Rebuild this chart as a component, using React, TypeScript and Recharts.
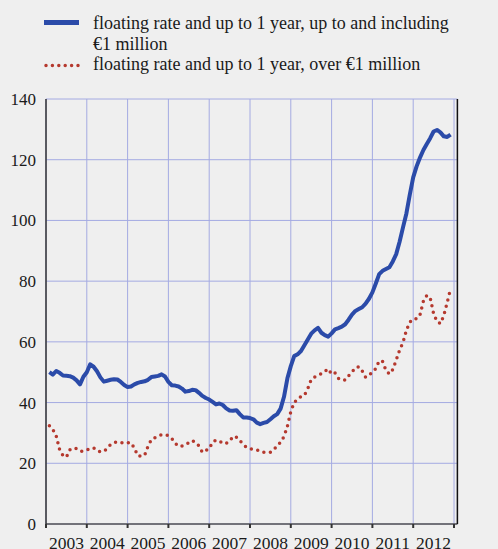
import { LineChart, Line, XAxis, YAxis, CartesianGrid } from 'recharts'

// monthly index values, first point = month 1 (Jan 2003)
const upToOneMillion = [
  50.0, 49.2, 50.4, 49.8, 48.9, 48.8, 48.7, 48.2, 47.3, 46.0, 48.5, 50.0,
  52.6, 51.8, 50.3, 48.3, 46.9, 47.2, 47.5, 47.7, 47.6, 46.8, 45.8, 45.1,
  45.3, 46.0, 46.5, 46.8, 47.0, 47.5, 48.4, 48.6, 48.8, 49.3, 48.6, 46.8,
  45.7, 45.6, 45.3, 44.6, 43.6, 43.8, 44.2, 44.1, 43.2, 42.2, 41.5, 41.0,
  40.2, 39.4, 39.7, 39.2, 38.1, 37.4, 37.3, 37.5, 36.2, 35.1, 35.1, 34.9,
  34.5, 33.4, 32.9, 33.3, 33.6, 34.5, 35.5, 36.2, 38.0, 41.9, 48.0, 52.0,
  55.3, 55.9, 57.0, 58.9, 60.8, 62.7, 63.8, 64.6, 63.0, 62.2, 61.7, 62.8,
  64.1, 64.5, 65.0, 65.8, 67.3, 69.0, 70.2, 70.8, 71.4, 72.6, 74.2, 76.3,
  79.2, 82.3, 83.4, 84.0, 84.6, 86.5, 88.9, 93.0, 97.7, 102.3, 108.5, 114.2,
  117.8, 120.7, 123.2, 125.2, 127.1, 129.3, 129.8, 129.0, 127.7, 127.5, 128.3,
]

const overOneMillion = [
  32.4, 31.2, 29.0, 24.5, 22.5, 22.0, 24.4, 25.0, 24.8, 24.0, 24.0, 24.4,
  24.8, 25.1, 24.3, 23.7, 24.0, 24.8, 26.2, 26.8, 27.0, 26.8, 26.6, 26.8,
  26.8, 25.0, 22.5, 22.4, 22.6, 25.6, 27.8, 28.4, 29.0, 29.4, 29.4, 29.1,
  28.2, 26.6, 25.6, 25.7, 26.1, 26.8, 27.5, 26.8, 25.7, 23.6, 24.2, 24.8,
  27.0, 27.6, 27.4, 26.5, 26.6, 27.2, 28.9, 28.6, 27.5, 26.2, 25.2, 24.8,
  24.6, 24.4, 24.0, 23.6, 23.6, 23.6, 24.6, 25.6, 27.0, 28.8, 32.2, 37.0,
  40.0, 41.2, 42.0, 42.4, 44.6, 47.6, 48.4, 49.0, 49.5, 50.3, 51.1, 49.3,
  49.8, 48.0, 47.4, 47.4, 48.8, 50.0, 51.5, 51.8, 50.4, 48.3, 49.0, 50.0,
  51.2, 53.8, 53.5, 50.6, 49.4, 50.9, 54.0, 57.3, 59.8, 63.8, 66.5, 67.6,
  67.6, 68.9, 73.4, 75.3, 74.5, 69.3, 66.7, 66.0, 68.7, 73.0, 77.5,
]

const years = ['2003', '2004', '2005', '2006', '2007', '2008', '2009', '2010', '2011', '2012']
const yearTicks = [0, 12, 24, 36, 48, 60, 72, 84, 96, 108, 120]
const valueTicks = [0, 20, 40, 60, 80, 100, 120, 140]

const legendLabels = [
  'floating rate and up to 1 year, up to and including',
  '€1 million',
  'floating rate and up to 1 year, over €1 million',
]

const BLUE = '#2b4ba9'
const RED = '#b5392e'
const GRID = '#a4aae2'
const AXIS = '#333'
const INK = '#1a1a1a'
// no serif face is available offline, so this falls back to the default sans
const FONT = "'Liberation Serif', 'DejaVu Serif', serif"

const data = upToOneMillion.map((v, i) => ({
  month: i + 1,
  small: v,
  large: overOneMillion[i],
}))

function YearTick(props: any) {
  const { x, y, payload } = props
  const idx = yearTicks.indexOf(payload.value)
  if (idx < 0 || idx >= years.length) return null
  return (
    <text x={x + 20.4} y={y} dy={19} textAnchor="middle" style={{ fontFamily: FONT, fontSize: 17.5 }} fill={INK}>
      {years[idx]}
    </text>
  )
}

function LegendBox() {
  const ts = { fontFamily: FONT, fontSize: 18 }
  return (
    <svg width={498} height={80} style={{ position: 'absolute', left: 0, top: 0 }}>
      {/* solid sample */}
      <line x1={44} x2={79} y1={22.5} y2={22.5} stroke={BLUE} strokeWidth={5} />
      <text x={93} y={29} style={ts} fill={INK}>{legendLabels[0]}</text>
      <text x={93} y={50} style={ts} fill={INK}>{legendLabels[1]}</text>
      {/* dotted sample */}
      <line x1={46} x2={79} y1={65.5} y2={65.5} stroke={RED} strokeWidth={3.5}
        strokeDasharray="0 6.4" strokeLinecap="round" />
      <text x={93} y={70} style={ts} fill={INK}>{legendLabels[2]}</text>
    </svg>
  )
}

export default function App() {
  return (
    <div style={{ position: 'absolute', left: 0, top: 0, width: 498, height: 549, background: '#efefef', overflow: 'hidden', fontFamily: FONT }}>
      <LegendBox />
      <LineChart width={498} height={549} data={data} margin={{ top: 99, right: 0, bottom: 0, left: 0 }}>
        <CartesianGrid yAxisId="left" stroke={GRID} strokeWidth={1} />
        <XAxis
          dataKey="month"
          type="number"
          domain={[0, 121]}
          ticks={yearTicks}
          height={25}
          tick={<YearTick />}
          tickSize={4}
          tickLine={{ stroke: AXIS, strokeWidth: 2 }}
          axisLine={{ stroke: '#555', strokeWidth: 1.5 }}
          interval={0}
        />
        <YAxis
          yAxisId="left"
          domain={[0, 140]}
          ticks={valueTicks}
          width={46}
          tickLine={false}
          tickSize={8}
          tickMargin={2}
          axisLine={{ stroke: AXIS, strokeWidth: 1.5 }}
          tick={{ fontSize: 17, fill: INK, style: { fontFamily: FONT } }}
        />
        <YAxis
          yAxisId="right"
          orientation="right"
          domain={[0, 140]}
          ticks={valueTicks}
          width={40.6}
          tickLine={false}
          tickSize={7}
          tickMargin={2}
          axisLine={{ stroke: '#111', strokeWidth: 1.5 }}
          tick={{ fontSize: 17, fill: INK, textAnchor: 'start', style: { fontFamily: FONT } }}
        />
        <Line
          yAxisId="left"
          dataKey="large"
          type="linear"
          stroke={RED}
          strokeWidth={3.5}
          strokeDasharray="0 6.5"
          strokeLinecap="round"
          dot={false}
          isAnimationActive={false}
        />
        <Line
          yAxisId="left"
          dataKey="small"
          type="linear"
          stroke={BLUE}
          strokeWidth={4}
          strokeLinejoin="round"
          dot={false}
          isAnimationActive={false}
        />
      </LineChart>
    </div>
  )
}
